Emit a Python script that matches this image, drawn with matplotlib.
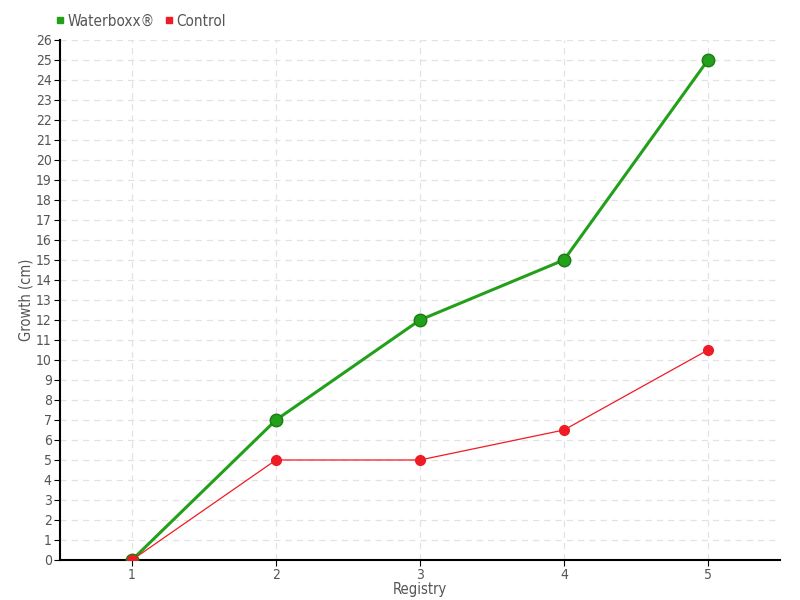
import matplotlib
matplotlib.use('Agg')
import matplotlib.pyplot as plt
from matplotlib.lines import Line2D

plt.rcParams['font.family'] = ['DejaVu Sans']
plt.rcParams['font.stretch'] = 'condensed'

registry = [1, 2, 3, 4, 5]
waterboxx = [0, 7, 12, 15, 25]
control = [0, 5, 5, 6.5, 10.5]

green = '#22a01a'
red = '#ee1c25'
text_color = '#555555'

fig = plt.figure(figsize=(8, 6), dpi=100)
ax = fig.add_axes([0.075, 0.0667, 0.9, 0.8667])

ax.plot(registry, waterboxx, color=green, linewidth=2.2, marker='o', markersize=9,
        markerfacecolor=green, markeredgecolor='#1b7a14', markeredgewidth=1, zorder=3)
ax.plot(registry, control, color=red, linewidth=0.9, marker='o', markersize=7,
        markerfacecolor=red, markeredgecolor=red, zorder=4)

ax.set_xlim(0.5, 5.5)
ax.set_ylim(0, 26)
ax.set_xticks(registry)
ax.set_yticks(range(0, 27))
ax.tick_params(axis='both', labelsize=10, labelcolor=text_color, length=4, color='black', pad=2)
ax.grid(True, color='#e2e2e2', linestyle=(0, (5, 4)), linewidth=0.9)
ax.set_axisbelow(True)
for s in ['top', 'right']:
    ax.spines[s].set_visible(False)
ax.spines['left'].set_linewidth(1.5)
ax.spines['bottom'].set_linewidth(1.5)

ax.set_xlabel('Registry', fontsize=10.5, color=text_color, labelpad=0)
ax.set_ylabel('Growth (cm)', fontsize=10.5, color=text_color, labelpad=2)

handles = [Line2D([], [], linestyle='none', marker='s', markersize=5, color=green),
           Line2D([], [], linestyle='none', marker='s', markersize=5, color=red)]
fig.legend(handles, ['Waterboxx®', 'Control'], loc='upper left', bbox_to_anchor=(0.052, 1.0),
           ncol=2, frameon=False, fontsize=11, handlelength=0.6, handletextpad=0.2,
           columnspacing=0.6, labelcolor=text_color)

fig.savefig('out.png', dpi=100)
